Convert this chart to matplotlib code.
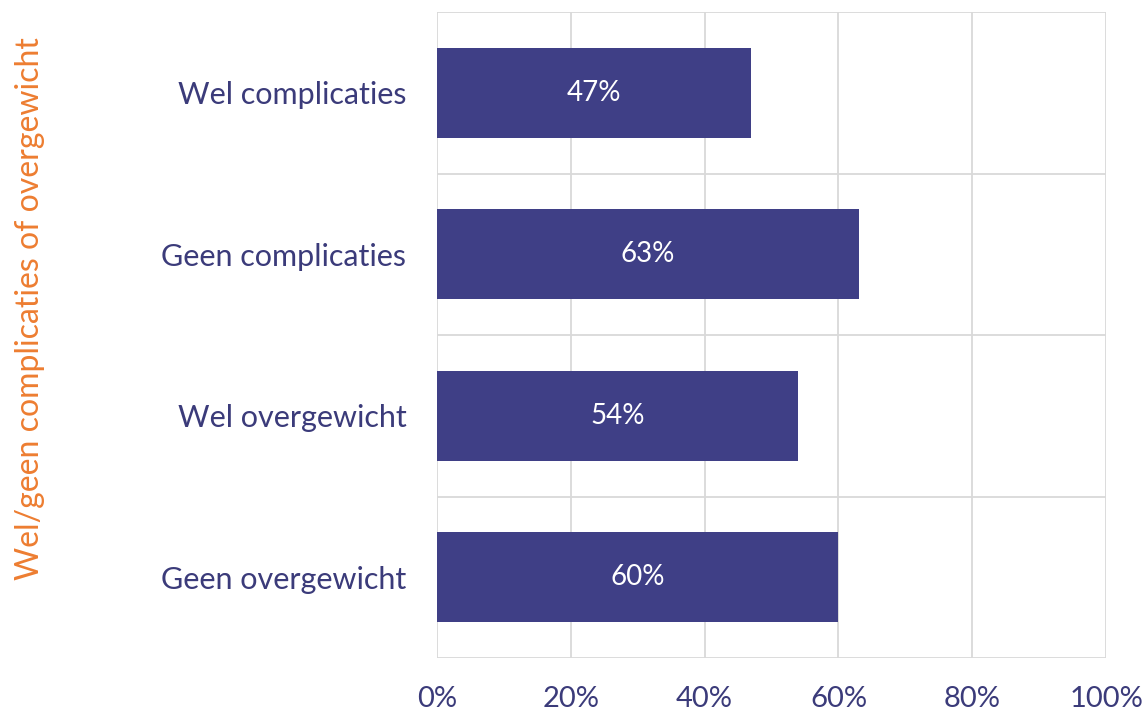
import matplotlib
matplotlib.use("Agg")
import matplotlib.pyplot as plt
import numpy as np
from matplotlib.ticker import FuncFormatter

# data, top to bottom as shown
categories = ["Wel complicaties", "Geen complicaties", "Wel overgewicht", "Geen overgewicht"]
values = [47, 63, 54, 60]
x_ticks = [0, 20, 40, 60, 80, 100]

bar_color = "#3F3F86"
text_color = "#3B3B7A"
orange = "#ED7D31"
grid_color = "#D9D9D9"

plt.rcParams['font.family'] = ['Lato', 'DejaVu Sans']

fig = plt.figure(figsize=(11.48, 7.16), dpi=100)
ax = fig.add_axes([0.3807, 0.081, 0.5828, 0.9022])

y = np.arange(len(categories))
bars = ax.barh(y, values, height=0.56, color=bar_color, zorder=3)
for b, v in zip(bars, values):
    ax.text(b.get_width() / 2, b.get_y() + b.get_height() / 2, f"{v}%",
            ha="center", va="center", color="white", fontsize=20, zorder=4)

ax.set_xlim(0, 100)
ax.set_ylim(len(categories) - 0.5, -0.5)
ax.set_xticks(x_ticks)
ax.xaxis.set_major_formatter(FuncFormatter(lambda v, _: f"{v:.0f}%"))
ax.set_yticks(y)
ax.set_yticklabels(categories)
ax.set_yticks(np.arange(len(categories) + 1) - 0.5, minor=True)

ax.grid(axis="x", which="major", color=grid_color, lw=1.3, zorder=0)
ax.grid(axis="y", which="minor", color=grid_color, lw=1.3, zorder=0)
ax.tick_params(axis="both", which="both", length=0)
ax.tick_params(axis="y", labelsize=22, labelcolor=text_color, pad=22)
ax.tick_params(axis="x", labelsize=21, labelcolor=text_color, pad=20)
for s in ax.spines.values():
    s.set_visible(False)

fig.text(30 / 1148, 1 - 309 / 716, "Wel/geen complicaties of overgewicht",
         rotation=90, ha="center", va="center", color=orange, fontsize=23)

fig.savefig("out.png", dpi=100)
